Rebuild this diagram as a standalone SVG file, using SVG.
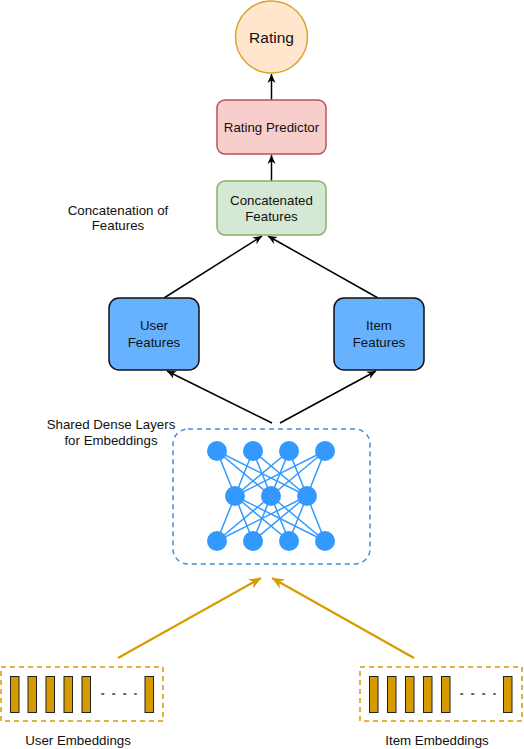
<svg xmlns="http://www.w3.org/2000/svg" width="524" height="749" viewBox="0 0 524 749">
<style>
text{font-family:"Liberation Sans",Arial,sans-serif;font-size:13.3px;fill:#111;text-anchor:middle}
.blk{stroke:#000;stroke-width:1.5;fill:none}
.org{stroke:#d79b00;stroke-width:2.2;fill:none}
.nn line{stroke:#3399ff;stroke-width:1.5}
.nn circle{fill:#3399ff}
.bar{fill:#d79b00;stroke:#222;stroke-width:1}
.dash{fill:none;stroke:#d79b00;stroke-width:1.5;stroke-dasharray:5 4}
.dots{stroke:#666;stroke-width:2;stroke-dasharray:1.5 9.5;stroke-linecap:round}
</style>
<defs>
<marker id="ab" viewBox="0 0 10 10" markerUnits="userSpaceOnUse" markerWidth="9" markerHeight="9" refX="10" refY="5" orient="auto">
<path d="M0,0.5 L10,5 L0,9.5 L3,5 Z" fill="#000"/>
</marker>
<marker id="ao" viewBox="0 0 10 10" markerUnits="userSpaceOnUse" markerWidth="12" markerHeight="12" refX="10" refY="5" orient="auto">
<path d="M0,0.5 L10,5 L0,9.5 L3,5 Z" fill="#d79b00"/>
</marker>
</defs>
<g id="connectors">
<line class="blk" x1="271.5" y1="100" x2="271.5" y2="74" marker-end="url(#ab)"/>
<line class="blk" x1="271.5" y1="181" x2="271.5" y2="155" marker-end="url(#ab)"/>
<line class="blk" x1="164" y1="298" x2="262" y2="236" marker-end="url(#ab)"/>
<line class="blk" x1="378" y1="298" x2="268" y2="236" marker-end="url(#ab)"/>
<line class="blk" x1="272" y1="423" x2="167" y2="371" marker-end="url(#ab)"/>
<line class="blk" x1="280" y1="423" x2="376" y2="371" marker-end="url(#ab)"/>
<line class="org" x1="118" y1="658" x2="261" y2="578" marker-end="url(#ao)"/>
<line class="org" x1="414" y1="658" x2="272" y2="578" marker-end="url(#ao)"/>
</g>
<g id="rating">
<circle cx="271.5" cy="37" r="36" fill="#ffe6cc" stroke="#d6a630" stroke-width="1.5"/>
<text x="271.5" y="43" style="font-size:15.5px">Rating</text>
</g>
<g id="rating-predictor">
<rect x="217" y="100" width="109" height="54" rx="8" fill="#f8cecc" stroke="#b85450" stroke-width="1.5"/>
<text x="271.5" y="132">Rating Predictor</text>
</g>
<g id="concatenated-features">
<rect x="217" y="181" width="109" height="54" rx="8" fill="#d5e8d4" stroke="#82b366" stroke-width="1.5"/>
<text x="271.5" y="205">Concatenated</text>
<text x="271.5" y="221">Features</text>
</g>
<g id="concat-label">
<text x="118" y="215">Concatenation of</text>
<text x="118" y="230">Features</text>
</g>
<g id="user-features">
<rect x="109" y="298" width="90" height="72" rx="10" fill="#66b2ff" stroke="#111" stroke-width="1.5"/>
<text x="154" y="330">User</text>
<text x="154" y="347">Features</text>
</g>
<g id="item-features">
<rect x="334" y="298" width="90" height="72" rx="10" fill="#66b2ff" stroke="#111" stroke-width="1.5"/>
<text x="379" y="330">Item</text>
<text x="379" y="347">Features</text>
</g>
<g id="dense-label">
<text x="111" y="429">Shared Dense Layers</text>
<text x="111" y="445">for Embeddings</text>
</g>
<g id="dense-layers">
<rect x="173" y="429" width="197" height="135" rx="15" fill="none" stroke="#3d8fe0" stroke-width="1.5" stroke-dasharray="5 4"/>
<g class="nn">
<line x1="217" y1="451" x2="235" y2="496"/><line x1="217" y1="451" x2="271" y2="496"/><line x1="217" y1="451" x2="307" y2="496"/>
<line x1="253" y1="451" x2="235" y2="496"/><line x1="253" y1="451" x2="271" y2="496"/><line x1="253" y1="451" x2="307" y2="496"/>
<line x1="289" y1="451" x2="235" y2="496"/><line x1="289" y1="451" x2="271" y2="496"/><line x1="289" y1="451" x2="307" y2="496"/>
<line x1="325" y1="451" x2="235" y2="496"/><line x1="325" y1="451" x2="271" y2="496"/><line x1="325" y1="451" x2="307" y2="496"/>
<line x1="217" y1="541" x2="235" y2="496"/><line x1="217" y1="541" x2="271" y2="496"/><line x1="217" y1="541" x2="307" y2="496"/>
<line x1="253" y1="541" x2="235" y2="496"/><line x1="253" y1="541" x2="271" y2="496"/><line x1="253" y1="541" x2="307" y2="496"/>
<line x1="289" y1="541" x2="235" y2="496"/><line x1="289" y1="541" x2="271" y2="496"/><line x1="289" y1="541" x2="307" y2="496"/>
<line x1="325" y1="541" x2="235" y2="496"/><line x1="325" y1="541" x2="271" y2="496"/><line x1="325" y1="541" x2="307" y2="496"/>
<circle cx="217" cy="451" r="10"/><circle cx="253" cy="451" r="10"/><circle cx="289" cy="451" r="10"/><circle cx="325" cy="451" r="10"/>
<circle cx="235" cy="496" r="10"/><circle cx="271" cy="496" r="10"/><circle cx="307" cy="496" r="10"/>
<circle cx="217" cy="541" r="10"/><circle cx="253" cy="541" r="10"/><circle cx="289" cy="541" r="10"/><circle cx="325" cy="541" r="10"/>
</g>
</g>
<g id="user-embeddings">
<rect class="dash" x="1" y="667" width="162" height="54"/>
<rect class="bar" x="10.5" y="676.5" width="8.5" height="36"/>
<rect class="bar" x="28" y="676.5" width="8.5" height="36"/>
<rect class="bar" x="46" y="676.5" width="8.5" height="36"/>
<rect class="bar" x="64" y="676.5" width="8.5" height="36"/>
<rect class="bar" x="82" y="676.5" width="8.5" height="36"/>
<line class="dots" x1="102" y1="694" x2="136" y2="694"/>
<rect class="bar" x="145" y="676.5" width="8.5" height="36"/>
<text x="78" y="745">User Embeddings</text>
</g>
<g id="item-embeddings">
<rect class="dash" x="360" y="667" width="162" height="54"/>
<rect class="bar" x="369.5" y="676.5" width="8.5" height="36"/>
<rect class="bar" x="387.5" y="676.5" width="8.5" height="36"/>
<rect class="bar" x="405.5" y="676.5" width="8.5" height="36"/>
<rect class="bar" x="423.5" y="676.5" width="8.5" height="36"/>
<rect class="bar" x="441.5" y="676.5" width="8.5" height="36"/>
<line class="dots" x1="461" y1="694" x2="495" y2="694"/>
<rect class="bar" x="503.5" y="676.5" width="8.5" height="36"/>
<text x="437" y="745">Item Embeddings</text>
</g>
</svg>
